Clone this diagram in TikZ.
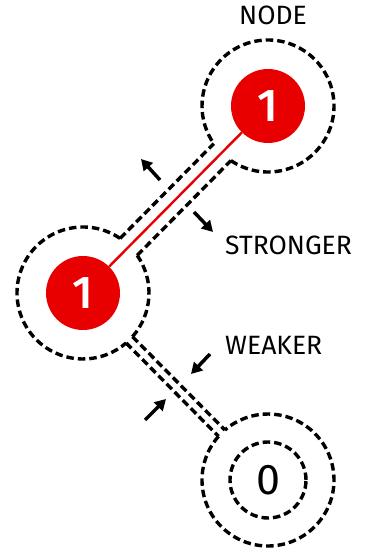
\documentclass[tikz,border=0pt]{standalone}
\usepackage{fontspec}
\setmainfont{Fira Sans}
\newfontfamily\firamed{Fira Sans Medium}
\usetikzlibrary{arrows.meta,calc}
\definecolor{nodered}{RGB}{232,0,0}
\begin{document}
\begin{tikzpicture}[x=1pt,y=1pt,
  outline/.style={draw=black,line width=3.4pt,dash pattern=on 7.5pt off 4pt},
  rednode/.style={circle,fill=nodered,minimum size=74pt,inner sep=0pt,text=white,font=\firamed\fontsize{46}{46}\selectfont},
  zeronode/.style={circle,minimum size=76pt,inner sep=0pt,text=black,font=\fontsize{43}{43}\selectfont},
  label/.style={font=\fontsize{26.5}{26.5}\selectfont,text=black,inner sep=0pt},
  push/.style={line width=3.5pt,-{Triangle[length=11pt,width=12pt]}}]
\useasboundingbox (0,0) rectangle (385,550);
\def\R{66}
% outlines (union of disks and bands)
\coordinate (A) at (268,444);
\coordinate (B) at (83,257);
\coordinate (C) at (268,70);
\draw[outline] (A) ++(235.8:\R) arc[start angle=235.8,end angle=574.8,radius=\R];
\draw[outline] (B) ++(55.8:\R) arc[start angle=55.8,end angle=310.8,radius=\R];
\draw[outline] (B) ++(318.6:\R) arc[start angle=318.6,end angle=394.8,radius=\R];
\draw[outline] (C) ++(138.6:\R) arc[start angle=138.6,end angle=490.8,radius=\R];
\draw[outline] ($(B)+(55.8:\R)$) -- ($(A)+(214.8:\R)$);
\draw[outline] ($(B)+(34.8:\R)$) -- ($(A)+(235.8:\R)$);
\draw[outline] ($(B)+(318.6:\R)$) -- ($(C)+(130.8:\R)$);
\draw[outline] ($(B)+(310.8:\R)$) -- ($(C)+(138.6:\R)$);
\draw[outline] (C) circle[radius=38];
% nodes
\node[rednode] (n1) at (A) {1};
\node[rednode] (n2) at (B) {1};
\node[zeronode] (n0) at (C) {0};
\draw[nodered,line width=2.4pt] (n2) -- (n1);
% arrows
\coordinate (a1s) at (160,370); \coordinate (a1e) at (141,391);
\coordinate (a2s) at (194,338); \coordinate (a2e) at (213,318);
\coordinate (a3s) at (210,196); \coordinate (a3e) at (191,176);
\coordinate (a4s) at (145,130); \coordinate (a4e) at (166,151);
\draw[push] (a1s) -- (a1e);
\draw[push] (a2s) -- (a2e);
\draw[push] (a3s) -- (a3e);
\draw[push] (a4s) -- (a4e);
% labels
\node[label] (lnode) at (273,535) {NODE};
\node[label,anchor=west] (lstrong) at (225,304.5) {STRONGER};
\node[label,anchor=west] (lweak) at (225,204.5) {WEAKER};
\end{tikzpicture}
\end{document}
